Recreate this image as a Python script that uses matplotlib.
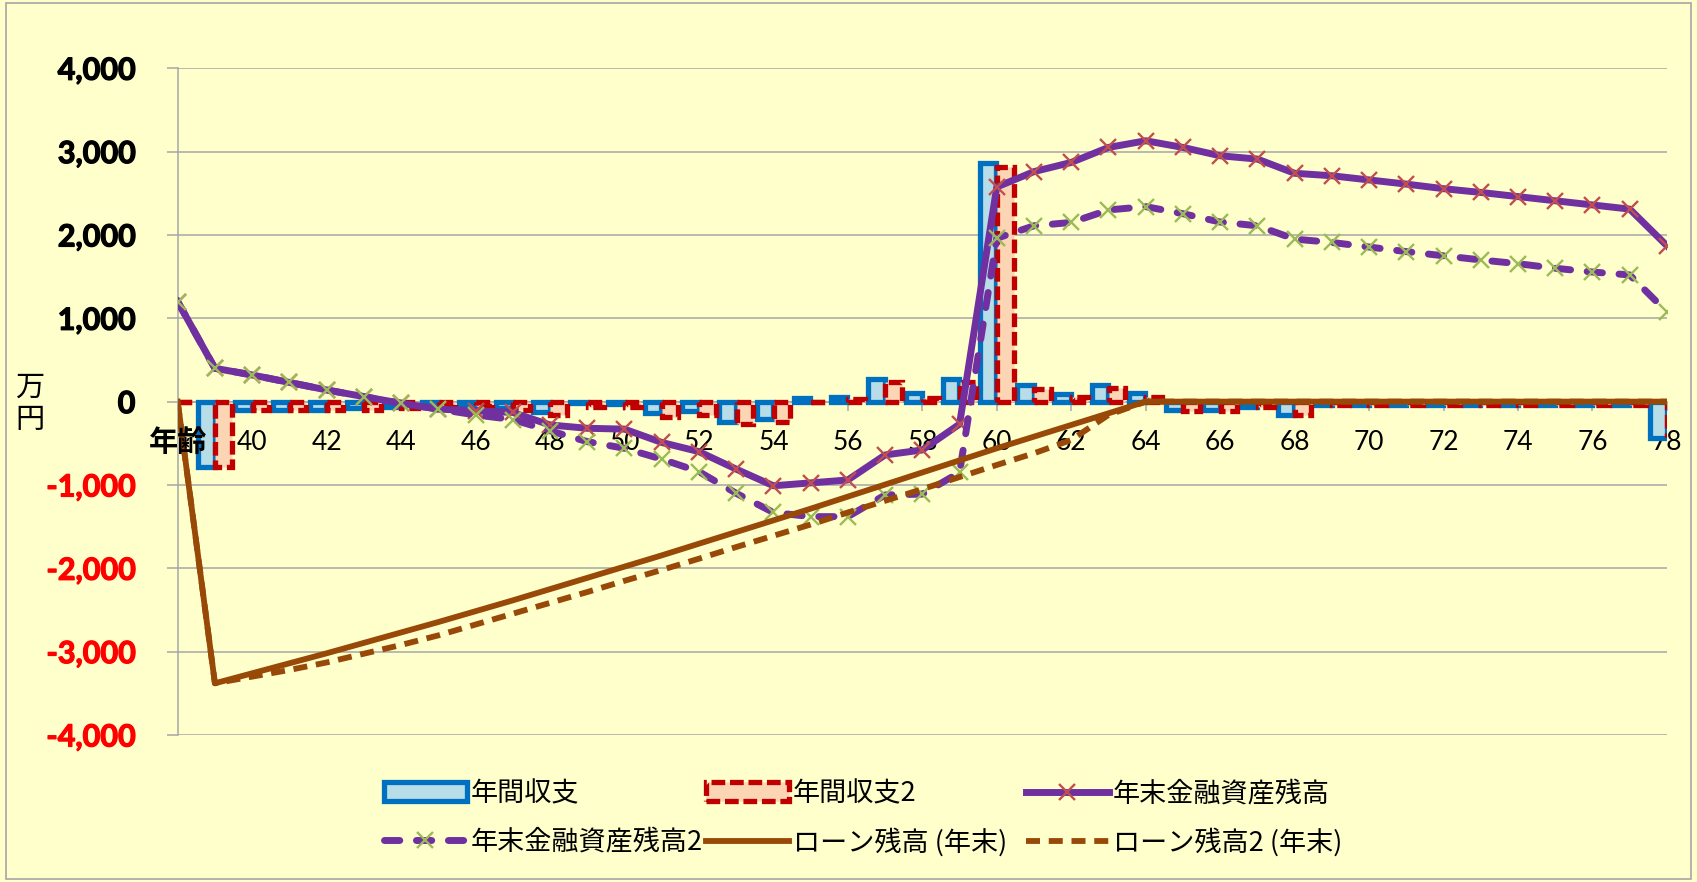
import numpy as np
import matplotlib.pyplot as plt
import matplotlib.patheffects as pe
from matplotlib.patches import Rectangle

plt.rcParams['font.family'] = ['Lato', 'Noto Sans CJK JP']

ages = list(range(38, 79))

# 年間収支 (万円)
balance = [0, -790, -100, -95, -95, -80, -70, -60, -55, -75,
           -125, -20, -30, -135, -115, -250, -205, 40, 55, 275,
           100, 275, 2860, 195, 90, 195, 100, -95, -95, -60,
           -165, -40, -40, -40, -40, -40, -40, -40, -40, -40,
           -435]
balance2 = [0, -790, -100, -95, -95, -95, -80, -60, -55, -95,
            -165, -70, -70, -190, -155, -270, -245, 0, 30, 230,
            40, 240, 2820, 155, 60, 160, 60, -110, -110, -60,
            -165, -40, -40, -40, -40, -40, -40, -40, -40, -40,
            -400]

# 年末金融資産残高
assets = [1200, 400, 320, 230, 140, 60, -20, -90, -110, -130,
          -280, -320, -330, -490, -600, -810, -1010, -975, -940, -640,
          -580, -270, 2575, 2760, 2870, 3050, 3130, 3050, 2950, 2910,
          2740, 2710, 2660, 2610, 2555, 2510, 2460, 2410, 2360, 2310,
          1870]
assets2 = [1200, 400, 320, 230, 140, 60, -20, -90, -160, -215,
           -350, -480, -560, -690, -840, -1100, -1330, -1380, -1380, -1120,
           -1110, -850, 1960, 2110, 2150, 2300, 2340, 2255, 2155, 2110,
           1950, 1910, 1855, 1800, 1750, 1700, 1655, 1600, 1555, 1520,
           1075]

# ローン残高 (年末)
loan = [0, -3380, -3260, -3140, -3020, -2895, -2770, -2645, -2515, -2385,
        -2250, -2115, -1980, -1845, -1705, -1565, -1425, -1285, -1140, -995,
        -850, -705, -560, -420, -280, -140, 0, 0, 0, 0,
        0, 0, 0, 0, 0, 0, 0, 0, 0, 0,
        0]
loan2 = [0, -3380, -3300, -3220, -3130, -3025, -2920, -2805, -2675, -2545,
         -2415, -2285, -2150, -2020, -1885, -1745, -1610, -1475, -1330, -1190,
         -1050, -905, -760, -620, -460, -160, 0, 0, 0, 0,
         0, 0, 0, 0, 0, 0, 0, 0, 0, 0,
         0]

tick_ages = list(range(38, 79, 2))
tick_labels = [''] + [str(a) for a in tick_ages[1:]]
y_ticks = list(range(-4000, 4001, 1000))

bg = '#FFFFCC'
grid_c = '#A6A6A6'

fig = plt.figure(figsize=(16.97, 8.82), dpi=100, facecolor=bg)
ax = fig.add_axes([0.1047, 0.1667, 0.8776, 0.7559])
ax.set_facecolor(bg)

x = np.array(ages)
bw = 0.44
b1 = ax.bar(x - 0.23, balance, bw, color='#B7DEE8', edgecolor='#0070C0',
            linewidth=3.8, zorder=2)
b2 = ax.bar(x + 0.23, balance2, bw, color='#FCD5B4', edgecolor='#C00000',
            linewidth=3.8, linestyle=(0, (2.6, 0.9)), zorder=2)

l1, = ax.plot(x, assets, color='#7030A0', lw=5, marker='x', ms=11,
              mec='#C0504D', mew=1.7, zorder=3)
l2, = ax.plot(x, assets2, color='#7030A0', lw=5, ls=(0, (2.2, 2.4)),
              dash_capstyle='round', marker='x', ms=11, mec='#9BBB59',
              mew=1.7, zorder=3)
l3, = ax.plot(x, loan, color='#984807', lw=4.2, zorder=4)
l4, = ax.plot(x, loan2, color='#984807', lw=4.2, ls=(0, (2.4, 1.5)), zorder=4)

ax.set_xlim(38, 78)
ax.set_ylim(-4000, 4000)

ax.set_yticks(y_ticks)
ax.set_yticklabels([f'{v:,}' for v in y_ticks])
for lab, v in zip(ax.get_yticklabels(), y_ticks):
    c = '#FF0000' if v < 0 else 'black'
    lab.set_color(c)
    lab.set_fontweight('bold')
    lab.set_path_effects([pe.withStroke(linewidth=0.9, foreground=c)])
ax.tick_params(axis='y', length=8, width=1.1, color=grid_c, labelsize=22, pad=22.5)
ax.yaxis.grid(True, color=grid_c, lw=1.1)
ax.set_axisbelow(True)

ax.set_xticks(tick_ages)
ax.set_xticklabels(tick_labels)
ax.tick_params(axis='x', length=6.5, width=1.1, color=grid_c, labelsize=19, pad=14)
for lab in ax.get_xticklabels():
    lab.set_fontweight('bold')
    lab.set_path_effects([pe.withStroke(linewidth=0.8, foreground='black')])

# first category label sits on top of the bars
ax.text(38, -484, '年齢', ha='center', va='center', fontsize=21,
        fontweight='bold', family='Noto Sans CJK JP', zorder=6, clip_on=False)

for side in ['top', 'right']:
    ax.spines[side].set_visible(False)
ax.spines['bottom'].set_position(('data', 0))
ax.spines['bottom'].set_color(grid_c)
ax.spines['bottom'].set_linewidth(1.1)
ax.spines['bottom'].set_zorder(1)
ax.spines['left'].set_color(grid_c)
ax.spines['left'].set_linewidth(1.1)

fig.text(30 / 1697, 1 - 404 / 882, '万\n円', ha='center', va='center',
         fontsize=21, family='Noto Sans CJK JP', linespacing=1.1)

# legend: three equally spaced columns, two rows
columns = [([b1, l2], ['年間収支', '年末金融資産残高2']),
           ([b2, l3], ['年間収支2', 'ローン残高 (年末)']),
           ([l1, l4], ['年末金融資産残高', 'ローン残高2 (年末)'])]
col_x = [384, 706, 1026]
for (hs, ls), cx in zip(columns, col_x):
    fig.legend(hs, ls, loc='upper left', bbox_to_anchor=(cx / 1697, 1 - 780 / 882),
               ncol=1, frameon=False, prop={'family': 'Noto Sans CJK JP', 'size': 19.5},
               handlelength=3.05, handleheight=0.7, handletextpad=0.15,
               labelspacing=0.78, borderpad=0, borderaxespad=0)

fig.add_artist(Rectangle((6 / 1697, 3 / 882), 1685 / 1697, 876 / 882,
                         transform=fig.transFigure, fill=False,
                         ec=grid_c, lw=1.2))

fig.savefig('out.png', dpi=100, facecolor=bg)
